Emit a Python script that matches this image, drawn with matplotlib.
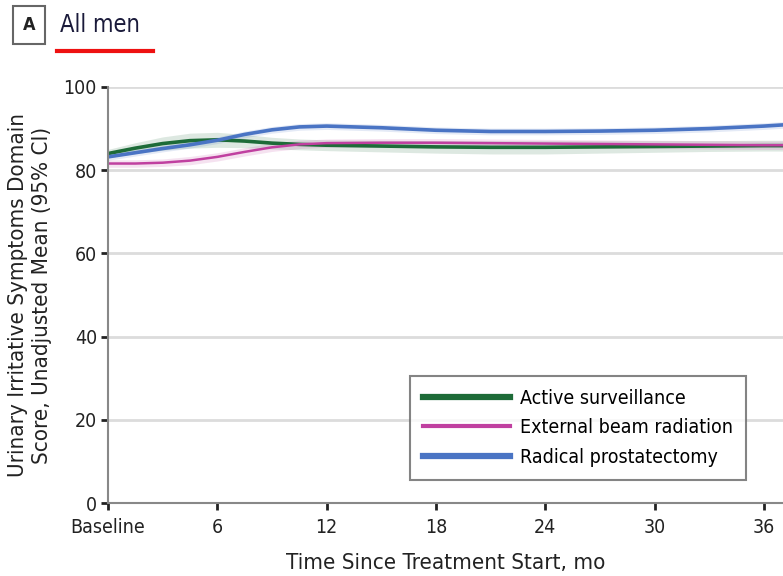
import matplotlib.pyplot as plt
from matplotlib.lines import Line2D

plt.rcParams['font.family'] = ['DejaVu Sans']
plt.rcParams['font.stretch'] = 'condensed'

months = [0, 1.5, 3, 4.5, 6, 7.5, 9, 10.5, 12, 15, 18, 21, 24, 27, 30, 33, 36, 37.1]

active = [84.0, 85.3, 86.4, 87.1, 87.3, 87.0, 86.5, 86.2, 86.0, 85.8, 85.6, 85.5,
          85.5, 85.6, 85.7, 85.8, 85.9, 85.9]
active_ci = [1.0, 1.3, 1.6, 1.8, 1.8, 1.6, 1.4, 1.3, 1.3, 1.4, 1.5, 1.6, 1.6, 1.5,
             1.4, 1.3, 1.3, 1.3]

ebrt = [81.6, 81.6, 81.8, 82.3, 83.2, 84.4, 85.5, 86.2, 86.5, 86.6, 86.6, 86.5,
        86.4, 86.3, 86.2, 86.1, 86.0, 86.0]
ebrt_ci = [0.9, 0.9, 0.9, 1.0, 1.0, 1.0, 1.0, 1.0, 1.0, 1.0, 1.0, 1.0, 1.0, 1.0,
           1.0, 1.0, 1.0, 1.0]

rp = [83.2, 84.2, 85.2, 86.1, 87.2, 88.6, 89.7, 90.4, 90.6, 90.2, 89.6, 89.3,
      89.3, 89.4, 89.6, 90.0, 90.6, 90.9]
rp_ci = [0.8, 0.8, 0.8, 0.8, 0.8, 0.8, 0.8, 0.8, 0.8, 0.8, 0.8, 0.8, 0.8, 0.8,
         0.8, 0.8, 0.8, 0.8]

series = [
    ("Active surveillance", active, active_ci, "#1d6b38"),
    ("External beam radiation", ebrt, ebrt_ci, "#c040a0"),
    ("Radical prostatectomy", rp, rp_ci, "#4a74c4"),
]

xticks = [0, 6, 12, 18, 24, 30, 36]
xticklabels = ["Baseline", "6", "12", "18", "24", "30", "36"]
yticks = [0, 20, 40, 60, 80, 100]

fig = plt.figure(figsize=(7.83, 5.76), dpi=100)
ax = fig.add_axes([0.138, 0.1267, 0.862, 0.7223])

for y in yticks[1:]:
    ax.axhline(y, color="#dcdcdc", lw=2, zorder=0)

for label, vals, ci, col in series:
    lo = [v - c for v, c in zip(vals, ci)]
    hi = [v + c for v, c in zip(vals, ci)]
    ax.fill_between(months, lo, hi, color=col, alpha=0.15, lw=0, zorder=1)
for label, vals, ci, col in series:
    lw = 1.8 if label.startswith("External") else 2.6
    ax.plot(months, vals, color=col, lw=lw, label=label, zorder=3)

ax.set_xlim(0, 37.05)
ax.set_ylim(0, 100)
ax.set_xticks(xticks)
ax.set_xticklabels(xticklabels)
ax.set_yticks(yticks)
ax.tick_params(axis="both", direction="out", length=5, width=2, color="#222222",
               labelsize=14, labelcolor="#222222", pad=3)
ax.tick_params(axis="x", pad=6)
for side in ["top", "right"]:
    ax.spines[side].set_visible(False)
for side in ["left", "bottom"]:
    ax.spines[side].set_color("#888888")
    ax.spines[side].set_linewidth(1.5)
ax.spines["left"].set_zorder(4)

ax.set_xlabel("Time Since Treatment Start, mo", fontsize=16, color="#222222", labelpad=11)
ax.set_ylabel("Urinary Irritative Symptoms Domain\nScore, Unadjusted Mean (95% CI)",
              fontsize=16, color="#222222", labelpad=8, linespacing=1.25)

handles = [Line2D([], [], color=c, lw=4.5 if not l.startswith("External") else 3)
           for l, _, _, c in series]
leg = ax.legend(handles, [s[0] for s in series], loc="lower left",
                bbox_to_anchor=(0.433, 0.033), fontsize=14, handlelength=4.5,
                handletextpad=0.5, labelspacing=0.55, borderpad=0.65,
                frameon=True, fancybox=False, edgecolor="#666666")
leg.get_frame().set_linewidth(1.5)

# panel tag and title
fig.text(0.037, 0.957, "A", fontsize=13, fontweight="bold", color="#222222",
         ha="center", va="center",
         bbox=dict(boxstyle="square,pad=0.55", fc="white", ec="#666666", lw=1.5))
fig.text(0.076, 0.957, "All men", fontsize=17, fontweight="medium", color="#1a1a3a",
         ha="left", va="center")
fig.add_artist(Line2D([0.073, 0.195], [0.912, 0.912], color="#ee1111", lw=3,
                      transform=fig.transFigure))

fig.savefig("out.png", dpi=100)
